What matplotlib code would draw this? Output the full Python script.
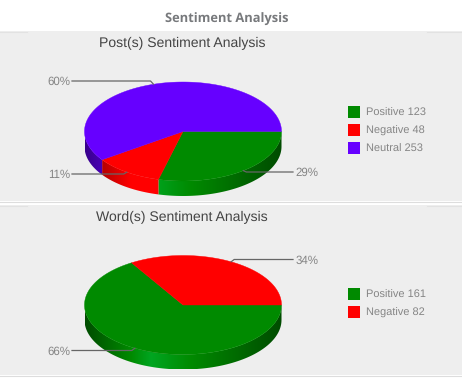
import numpy as np
import matplotlib
matplotlib.use('Agg')
import matplotlib.pyplot as plt
from matplotlib.patches import Polygon, Rectangle

plt.rcParams['text.hinting'] = 'no_hinting'

# data
posts_labels = ['Positive', 'Negative', 'Neutral']
posts_values = [123, 48, 253]
posts_pct = ['29%', '11%', '60%']
words_labels = ['Positive', 'Negative']
words_values = [161, 82]
words_pct = ['66%', '34%']

GREEN = '#008a00'
RED = '#ff0000'
PURPLE = '#6600ff'
post_colors = [GREEN, RED, PURPLE]
word_colors = [GREEN, RED]

fig = plt.figure(figsize=(4.62, 3.87), dpi=100)
ax = fig.add_axes([0, 0, 1, 1])

# panels
ax.add_patch(Rectangle((0, 31), 462, 170, color='#eeeeee', lw=0, zorder=0))
ax.add_patch(Rectangle((0, 205), 462, 170, color='#eeeeee', lw=0, zorder=0))
for y in [31.5, 205.5]:
    ax.plot([0, 27], [y, y], color='#e2e2e2', lw=0.8)
    ax.plot([427, 462], [y, y], color='#e2e2e2', lw=0.8)
ax.plot([0, 462], [201.5, 201.5], color='#dddddd', lw=0.8)
ax.plot([0, 462], [375.5, 375.5], color='#dddddd', lw=0.8)

ax.text(227, 19.5, 'Sentiment Analysis', fontsize=9.3, family='Open Sans',
        weight='bold', color='#77797c', ha='center', va='center')


def wall_gradient(color):
    # side wall: dark at both ends, brightest a bit left of the middle
    rgb = np.array(matplotlib.colors.to_rgb(color))
    t = np.linspace(-1, 1, 200)
    k = np.where(t < -0.33, 0.55 + 0.65 * (t + 1) / 0.67, 1.2 - 0.65 * (t + 0.33) / 1.33)
    out = rgb[None, :] * k[:, None]
    if rgb[1] > 0.3:
        # the green goes a bit more saturated at the bright spot
        out[:, 2] += np.clip(k - 1, 0, 1) * 0.65
    return np.clip(out, 0, 1)[None, :, :]


def pie3d(values, colors, cx, cy, rx=98.5, ry=49.5, depth=15):
    shares = np.array(values) / sum(values)
    edges = np.concatenate([[0], np.cumsum(shares)]) * 2 * np.pi
    # side wall first
    for i, col in enumerate(colors):
        a0, a1 = edges[i], min(edges[i + 1], np.pi)
        if a0 >= np.pi:
            continue
        th = np.linspace(a0, a1, 100)
        xs = cx + rx * np.cos(th)
        ys = cy + ry * np.sin(th)
        pts = list(zip(xs, ys)) + list(zip(xs[::-1], ys[::-1] + depth))
        clip = Polygon(pts, closed=True, transform=ax.transData, fc='none', ec='none')
        ax.add_patch(clip)
        im = ax.imshow(wall_gradient(col), extent=(cx - rx, cx + rx, cy + ry + depth, cy - ry),
                       aspect='auto', interpolation='bilinear', zorder=1)
        im.set_clip_path(clip)
    # top
    for i, col in enumerate(colors):
        th = np.linspace(edges[i], edges[i + 1], 120)
        pts = [(cx, cy)] + list(zip(cx + rx * np.cos(th), cy + ry * np.sin(th)))
        ax.add_patch(Polygon(pts, closed=True, fc=col, ec=col, lw=0.3, zorder=1.5))
    # slice mid points, for the leader lines
    mids = (edges[:-1] + edges[1:]) / 2
    return cx + rx * np.cos(mids), cy + ry * np.sin(mids)


def leader(px, py, ly, text, right):
    lx = 293 if right else 72
    bend = px + 3 if right else px - 3
    ax.plot([px, bend, lx], [py, ly, ly], color='#666666', lw=0.9, solid_joinstyle='round')
    ax.text(lx + 2.5 if right else lx - 1.5, ly + 1, text, fontsize=8.3, family='Liberation Sans',
            color='#858585', va='center', ha='left' if right else 'right')


def legend(labels, values, colors, top):
    for i, (lab, val, col) in enumerate(zip(labels, values, colors)):
        y = top + i * 18
        ax.add_patch(Rectangle((348, y), 12, 12, color=col, lw=0))
        ax.text(366, y + 6.8, f'{lab} {val}', fontsize=7.9, family='Liberation Sans',
                color='#858585', va='center', ha='left')


# posts
ax.text(182.5, 43, 'Post(s) Sentiment Analysis', fontsize=10.05, family='Liberation Sans',
        color='#444444', ha='center', va='center')
mx, my = pie3d(posts_values, post_colors, 183, 131.5)
leader(mx[0], my[0], 172, posts_pct[0], True)
leader(mx[1], my[1], 174, posts_pct[1], False)
leader(mx[2], my[2], 81, posts_pct[2], False)
legend(posts_labels, posts_values, post_colors, 106)

# words
ax.text(182, 217, 'Word(s) Sentiment Analysis', fontsize=10.05, family='Liberation Sans',
        color='#444444', ha='center', va='center')
mx, my = pie3d(words_values, word_colors, 183, 305)
leader(mx[0], my[0], 350.5, words_pct[0], False)
leader(mx[1], my[1], 259.5, words_pct[1], True)
legend(words_labels, words_values, word_colors, 288)

ax.set_xlim(0, 462)
ax.set_ylim(387, 0)
ax.set_aspect('auto')
ax.axis('off')

fig.savefig('out.png', dpi=100)
